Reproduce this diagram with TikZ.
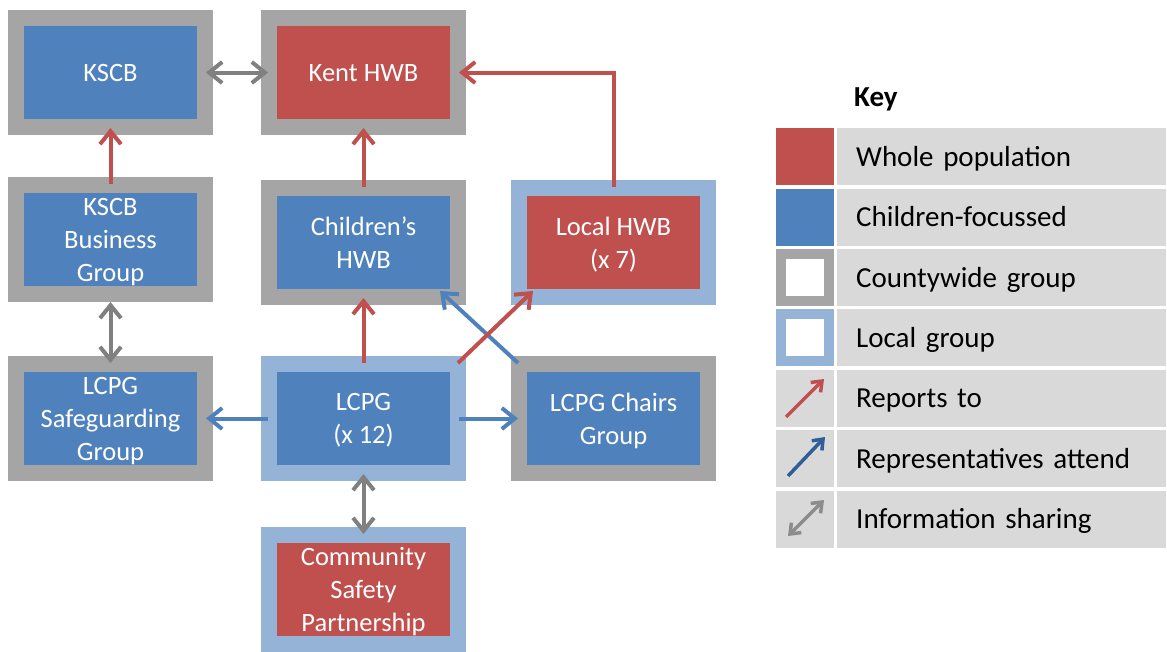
\documentclass[tikz,border=0pt]{standalone}
\usepackage{fontspec}
\setmainfont{Carlito}
\usetikzlibrary{arrows.meta,positioning}
\definecolor{wholered}{HTML}{C0504D}
\definecolor{kidsblue}{HTML}{4F81BD}
\definecolor{countygray}{HTML}{A5A5A5}
\definecolor{localblue}{HTML}{95B3D7}
\definecolor{sharegray}{HTML}{808080}
\definecolor{keygray}{HTML}{D9D9D9}
\definecolor{attendblue}{HTML}{2F5E98}
\definecolor{keyshare}{HTML}{8C8C8C}
\newcommand{\grpfont}{\fontsize{26.5}{33}\selectfont}
\newcommand{\keyfont}{\fontsize{29}{35}\selectfont}

\tikzset{
  group/.style={minimum width=189pt, minimum height=109pt, line width=16pt,
    inner sep=0pt, text=white, align=center, text depth=0pt, font=\grpfont},
  county/.style={group, draw=countygray},
  local/.style={group, draw=localblue},
  whole/.style={fill=wholered},
  kids/.style={fill=kidsblue},
  head/.style={-{Straight Barb[length=13pt,width=21pt]}},
  reports/.style={draw=wholered, line width=4pt, head},
  attends/.style={draw=kidsblue, line width=4pt, head},
  shares/.style={draw=sharegray, line width=4pt,
    {Straight Barb[length=13pt,width=21pt]}-{Straight Barb[length=13pt,width=21pt]}},
  into/.style={shorten <=-7pt, shorten >=-7pt},
  swatch/.style={minimum width=58pt, minimum height=57pt, inner sep=0pt},
  keycell/.style={fill=keygray, minimum height=57pt, text width=291pt,
    inner xsep=19pt, inner ysep=0pt, anchor=west, align=left,
    text height=19pt, text depth=0pt, font=\keyfont},
}

\begin{document}
\begin{tikzpicture}[x=1pt,y=-1pt,node distance=45pt]
  \useasboundingbox (0,0) rectangle (1167,651);
  % groups
  \node[county,kids] (kscb) at (110.5,72.5) {KSCB};
  \node[county,whole] (kent) [right=48pt of kscb] {Kent HWB};
  \node[county,kids] (business) [below=42pt of kscb] {KSCB\\Business\\Group};
  \node[county,kids] (childrens) [below=45pt of kent] {Children’s\\HWB};
  \node[local,whole] (localhwb) [right=of childrens] {Local HWB\\(x 7)};
  \node[county,kids] (safeguarding) [below=54pt of business] {LCPG\\Safeguarding\\Group};
  \node[local,kids] (lcpg) [below=51pt of childrens] {LCPG\\(x 12)};
  \node[county,kids] (chairs) [right=of lcpg] {LCPG Chairs\\Group};
  \node[local,whole] (csp) [below=46pt of lcpg] {Community\\Safety\\Partnership};

  % links
  \draw[shares,into] (kscb) -- (kent);
  \draw[reports,into] (business) -- (kscb);
  \draw[reports,into] (childrens) -- (kent);
  \draw[reports,into] (localhwb) |- (kent);
  \draw[reports,into] (lcpg) -- (childrens);
  \draw[attends] ([shift={(7,7)}]chairs.north west) -- ([shift={(-26,-14)}]childrens.south east);
  \draw[reports] ([shift={(-8,7)}]lcpg.north east) -- ([shift={(22,-14)}]localhwb.south west);
  \draw[attends,into] (lcpg) -- (chairs);
  \draw[attends,into] (lcpg) -- (safeguarding);
  \draw[shares,shorten >=-7pt] (business) -- (safeguarding);
  \draw[shares,into] (lcpg) -- (csp);

  % key
  \node[anchor=base west, inner sep=0pt, font=\keyfont\bfseries] (key) at (854,106) {Key};
  \node[swatch,fill=wholered] (popsw) at (805,156.5) {};
  \node[keycell] (pop) at (837,156.5) {Whole population};
  \node[swatch,fill=kidsblue] (kidsw) at (805,217) {};
  \node[keycell] (kid) at (837,217) {Children-focussed};
  \node[swatch,fill=white,draw=countygray,line width=10pt,
    minimum width=48pt,minimum height=47pt] (cwsw) at (805,277.5) {};
  \node[keycell] (cw) at (837,277.5) {Countywide group};
  \node[swatch,fill=white,draw=localblue,line width=10pt,
    minimum width=48pt,minimum height=47pt] (locsw) at (805,337.5) {};
  \node[keycell] (loc) at (837,337.5) {Local group};
  \node[swatch,fill=keygray] (repsw) at (805,398) {};
  \node[keycell] (rep) at (837,398) {Reports to};
  \node[swatch,fill=keygray] (attsw) at (805,458.5) {};
  \node[keycell] (att) at (837,458.5) {Representatives attend};
  \node[swatch,fill=keygray] (shsw) at (805,519) {};
  \node[keycell] (sh) at (837,519) {Information sharing};

  \draw[draw=wholered, line width=3.5pt, -{Straight Barb[length=9pt,width=14pt]}]
    ([shift={(-19,19)}]repsw.center) -- ([shift={(19,-19)}]repsw.center);
  \draw[draw=attendblue, line width=3.5pt, -{Straight Barb[length=9pt,width=14pt]}]
    ([shift={(-17,17.5)}]attsw.center) -- ([shift={(20,-21.5)}]attsw.center);
  \draw[draw=keyshare, line width=3.5pt,
    {Straight Barb[length=9pt,width=14pt]}-{Straight Barb[length=9pt,width=14pt]}]
    ([shift={(-17,17)}]shsw.center) -- ([shift={(19,-19)}]shsw.center);
\end{tikzpicture}
\end{document}
